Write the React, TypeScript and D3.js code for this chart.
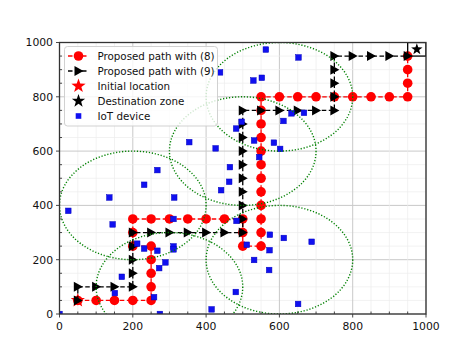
import React, { useEffect, useRef } from 'react';
import * as d3 from 'd3';

// path found with (8)
const path8X = [50, 100, 150, 200, 250, 250, 250, 250, 250, 200, 200, 200, 250, 300, 350, 400, 450, 500, 500, 500, 550, 550, 550, 550, 550, 550, 550, 550, 550, 550, 550, 550, 600, 650, 700, 750, 800, 850, 900, 950, 950, 950, 950];
const path8Y = [50, 50, 50, 50, 50, 100, 150, 200, 250, 250, 300, 350, 350, 350, 350, 350, 350, 350, 300, 250, 250, 300, 350, 400, 450, 500, 550, 600, 650, 700, 750, 800, 800, 800, 800, 800, 800, 800, 800, 800, 850, 900, 950];

// path found with (9)
const path9X = [50, 50, 100, 150, 200, 200, 200, 200, 200, 250, 300, 350, 400, 450, 500, 500, 500, 500, 500, 500, 500, 500, 500, 500, 550, 600, 650, 700, 750, 750, 750, 750, 750, 800, 850, 900, 950];
const path9Y = [50, 100, 100, 100, 100, 150, 200, 250, 300, 300, 300, 300, 300, 300, 300, 350, 400, 450, 500, 550, 600, 650, 700, 750, 750, 750, 750, 750, 750, 800, 850, 900, 950, 950, 950, 950, 950];

const initLoc = [50, 50];
const destLoc = [975, 975];
const destZone = [950, 1000];

// iot devices
const iotX = [438, 529, 552, 563, 652, 497, 482, 531, 585, 602, 545, 426, 354, 611, 633, 667, 465, 463, 441, 267, 231, 136, 313, 24, 145, 311, 483, 212, 231, 267, 311, 311, 289, 272, 170, 151, 258, 274, 0, 415, 481, 511, 531, 574, 612, 688, 573, 572, 651];
const iotY = [890, 860, 870, 974, 945, 708, 683, 639, 631, 608, 578, 610, 633, 711, 739, 741, 541, 487, 456, 530, 476, 429, 429, 380, 330, 350, 343, 259, 241, 233, 249, 238, 190, 169, 137, 77, 62, 0, 0, 17, 81, 255, 199, 292, 280, 266, 235, 162, 37];

// coverage circles
const circX = [200, 300, 600, 500, 600];
const circY = [400, 100, 200, 600, 800];
const circR = [200, 200, 200, 200, 200];

const ticks = [0, 200, 400, 600, 800, 1000];
const legendLabels = ['Proposed path with (8)', 'Proposed path with (9)', 'Initial location', 'Destination zone', 'IoT device'];

const W = 474, H = 354;
const font = '"DejaVu Sans", sans-serif';

function starPath(r: number) {
  let s = '';
  for (let i = 0; i < 10; i++) {
    const a = -Math.PI / 2 + (i * Math.PI) / 5;
    const rr = i % 2 === 0 ? r : r * 0.4;
    s += (i === 0 ? 'M' : 'L') + (rr * Math.cos(a)).toFixed(2) + ',' + (rr * Math.sin(a)).toFixed(2);
  }
  return s + 'Z';
}

const triPath = (s: number) => `M${s},0L${-s * 0.8},${-s}L${-s * 0.8},${s}Z`;

export default function App() {
  const ref = useRef<SVGSVGElement>(null);

  useEffect(() => {
    const svg = d3.select(ref.current);
    svg.selectAll('*').remove();

    const left = 59.5, right = 426, top = 42.5, bottom = 314;
    const x = d3.scaleLinear().domain([0, 1000]).range([left, right]);
    const y = d3.scaleLinear().domain([0, 1000]).range([bottom, top]);

    svg.append('defs').append('clipPath').attr('id', 'plotclip')
      .append('rect').attr('x', left).attr('y', top).attr('width', right - left).attr('height', bottom - top);

    // grid
    const minor = d3.range(0, 1001, 50);
    const grid = svg.append('g');
    minor.forEach(v => {
      const major = v % 200 === 0;
      grid.append('line').attr('x1', x(v)).attr('x2', x(v)).attr('y1', top).attr('y2', bottom)
        .attr('stroke', major ? '#c9c9c9' : '#ececec').attr('stroke-width', major ? 1 : 0.7);
      grid.append('line').attr('y1', y(v)).attr('y2', y(v)).attr('x1', left).attr('x2', right)
        .attr('stroke', major ? '#c9c9c9' : '#ececec').attr('stroke-width', major ? 1 : 0.7);
    });

    const plot = svg.append('g').attr('clip-path', 'url(#plotclip)');

    // path (8)
    const line = d3.line<number>().x((d, i) => x(path8X[i])).y(d => y(d));
    plot.append('path').attr('d', line(path8Y)).attr('fill', 'none').attr('stroke', 'red')
      .attr('stroke-width', 1.3).attr('stroke-dasharray', '4.5,2.5');
    plot.append('g').selectAll('circle').data(path8Y).enter().append('circle')
      .attr('cx', (d, i) => x(path8X[i])).attr('cy', d => y(d)).attr('r', 4.8).attr('fill', 'red');

    // initial location
    plot.append('path').attr('d', starPath(7.5)).attr('fill', 'red')
      .attr('transform', `translate(${x(initLoc[0])},${y(initLoc[1])})`);

    // path (9)
    const line9 = d3.line<number>().x((d, i) => x(path9X[i])).y(d => y(d));
    plot.append('path').attr('d', line9(path9Y)).attr('fill', 'none').attr('stroke', 'black')
      .attr('stroke-width', 1.3).attr('stroke-dasharray', '4.5,2.5');
    plot.append('g').selectAll('path').data(path9Y).enter().append('path')
      .attr('d', triPath(5))
      .attr('transform', (d, i) => `translate(${x(path9X[i])},${y(d)})`).attr('fill', 'black');

    // iot devices
    plot.append('g').selectAll('rect').data(iotY).enter().append('rect')
      .attr('x', (d, i) => x(iotX[i]) - 2.8).attr('y', d => y(d) - 2.8)
      .attr('width', 5.6).attr('height', 5.6).attr('fill', '#1010f0').attr('stroke', '#0000c0').attr('stroke-width', 0.5);

    // coverage circles
    plot.append('g').selectAll('ellipse').data(circX).enter().append('ellipse')
      .attr('cx', d => x(d)).attr('cy', (d, i) => y(circY[i]))
      .attr('rx', (d, i) => x(circR[i]) - x(0)).attr('ry', (d, i) => y(0) - y(circR[i]))
      .attr('fill', 'none').attr('stroke', 'green').attr('stroke-width', 1.4).attr('stroke-dasharray', '1.2,1.8');

    // destination zone
    plot.append('rect').attr('x', x(destZone[0])).attr('y', y(destZone[1]))
      .attr('width', x(destZone[1]) - x(destZone[0])).attr('height', y(destZone[0]) - y(destZone[1]))
      .attr('fill', 'none').attr('stroke', 'black').attr('stroke-width', 1.3);
    plot.append('path').attr('d', starPath(6)).attr('fill', 'black')
      .attr('transform', `translate(${x(destLoc[0])},${y(destLoc[1])})`);

    // frame
    svg.append('rect').attr('x', left).attr('y', top).attr('width', right - left).attr('height', bottom - top)
      .attr('fill', 'none').attr('stroke', '#333').attr('stroke-width', 1.3);

    // ticks
    const tk = svg.append('g').attr('stroke', '#333').attr('stroke-width', 0.9);
    minor.forEach(v => {
      if (v % 200 === 0) {
        tk.append('line').attr('x1', x(v)).attr('x2', x(v)).attr('y1', bottom).attr('y2', bottom + 3.5);
        tk.append('line').attr('y1', y(v)).attr('y2', y(v)).attr('x1', left).attr('x2', left - 3.5);
      } else {
        tk.append('line').attr('x1', x(v)).attr('x2', x(v)).attr('y1', bottom).attr('y2', bottom - 2.5);
        tk.append('line').attr('y1', y(v)).attr('y2', y(v)).attr('x1', left).attr('x2', left + 2.5);
      }
    });
    svg.append('g').selectAll('text').data(ticks).enter().append('text')
      .attr('x', d => x(d)).attr('y', bottom + 15.5).attr('text-anchor', 'middle')
      .attr('font-family', font).attr('font-size', 10.8).attr('fill', '#111').text(d => d);
    svg.append('g').selectAll('text').data(ticks).enter().append('text')
      .attr('x', left - 6.5).attr('y', d => y(d) + 3.9).attr('text-anchor', 'end')
      .attr('font-family', font).attr('font-size', 10.8).attr('fill', '#111').text(d => d);

    // legend
    const lg = svg.append('g');
    lg.append('rect').attr('x', 64.5).attr('y', 46.5).attr('width', 153).attr('height', 79.5).attr('rx', 3)
      .attr('fill', 'white').attr('fill-opacity', 0.8).attr('stroke', '#cccccc').attr('stroke-width', 0.9);
    legendLabels.forEach((lab, i) => {
      const ry = 56 + i * 15;
      const g = lg.append('g');
      if (i === 0) {
        g.append('line').attr('x1', 68).attr('x2', 89).attr('y1', ry).attr('y2', ry).attr('stroke', 'red')
          .attr('stroke-width', 1.3).attr('stroke-dasharray', '4.5,2.5');
        g.append('circle').attr('cx', 78.5).attr('cy', ry).attr('r', 4.8).attr('fill', 'red');
      } else if (i === 1) {
        g.append('line').attr('x1', 68).attr('x2', 89).attr('y1', ry).attr('y2', ry).attr('stroke', 'black')
          .attr('stroke-width', 1.3).attr('stroke-dasharray', '4.5,2.5');
        g.append('path').attr('d', triPath(5)).attr('transform', `translate(78.5,${ry})`).attr('fill', 'black');
      } else if (i === 2) {
        g.append('path').attr('d', starPath(7.5)).attr('transform', `translate(78.5,${ry})`).attr('fill', 'red');
      } else if (i === 3) {
        g.append('path').attr('d', starPath(7)).attr('transform', `translate(78.5,${ry})`).attr('fill', 'black');
      } else {
        g.append('rect').attr('x', 75.7).attr('y', ry - 2.8).attr('width', 5.6).attr('height', 5.6).attr('fill', '#1010f0');
      }
      g.append('text').attr('x', 97.5).attr('y', ry + 3.8).attr('font-family', font).attr('font-size', 10.3)
        .attr('fill', '#111').text(lab);
    });
  }, []);

  return <svg ref={ref} width={W} height={H} style={{ position: 'absolute', left: 0, top: 0, background: 'white' }} />;
}
